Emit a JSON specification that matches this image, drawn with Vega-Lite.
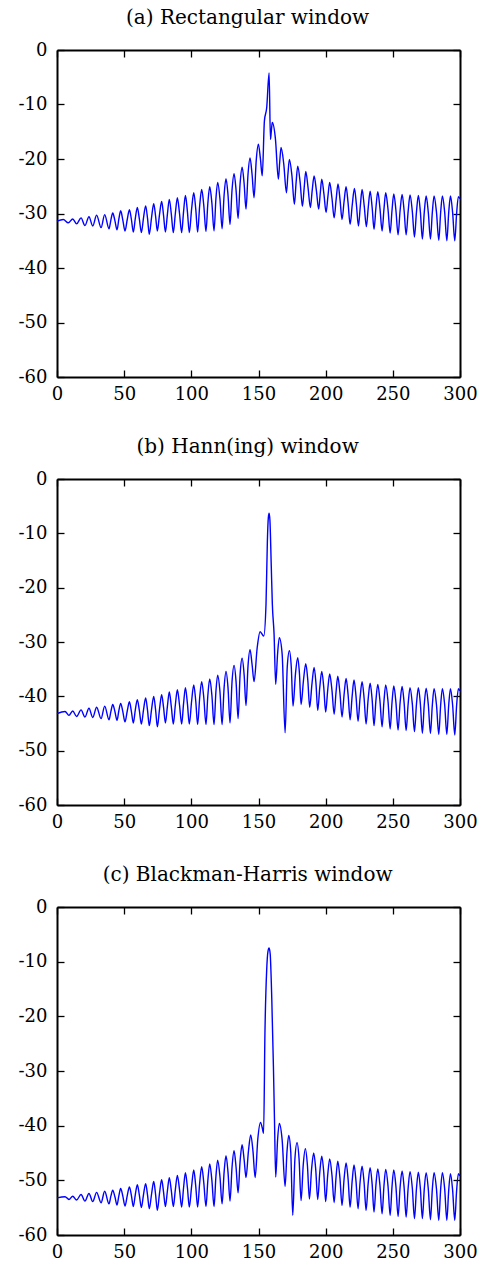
{
  "$schema": "https://vega.github.io/schema/vega-lite/v6.json",
  "background": "white",
  "padding": {"left": 18, "top": 8, "right": 5, "bottom": 5},
  "spacing": 34,
  "datasets": {
    "a": [
      {"x":0,"y":-31.4},{"x":4.7,"y":-31.1},{"x":8.4,"y":-31.7},{"x":11.7,"y":-31.0},{"x":14.6,"y":-31.9},{"x":17.9,"y":-30.8},{"x":20.8,"y":-32.2},{"x":23.8,"y":-30.6},{"x":26.6,"y":-32.3},{"x":29.5,"y":-30.3},{"x":32.8,"y":-32.6},{"x":35.5,"y":-30.2},{"x":38.7,"y":-32.8},
      {"x":40.1,"y":-31.2},{"x":41.5,"y":-29.9},{"x":43.1,"y":-31.3},{"x":44.7,"y":-33.0},
      {"x":46.0,"y":-31.1},{"x":47.4,"y":-29.5},{"x":49.0,"y":-31.2},{"x":50.6,"y":-33.2},
      {"x":52.3,"y":-31.1},{"x":53.9,"y":-29.3},{"x":55.4,"y":-31.1},{"x":56.8,"y":-33.4},
      {"x":58.3,"y":-30.9},{"x":59.8,"y":-28.9},{"x":61.3,"y":-31.0},{"x":62.8,"y":-33.5},
      {"x":64.4,"y":-30.8},{"x":66.0,"y":-28.6},{"x":67.4,"y":-30.9},{"x":68.7,"y":-33.8},
      {"x":70.4,"y":-30.7},{"x":72.0,"y":-28.2},{"x":73.4,"y":-30.5},{"x":74.7,"y":-33.2},
      {"x":76.3,"y":-30.2},{"x":77.9,"y":-27.8},{"x":79.3,"y":-30.3},{"x":80.7,"y":-33.4},
      {"x":82.2,"y":-30.1},{"x":83.6,"y":-27.4},{"x":85.1,"y":-30.1},{"x":86.6,"y":-33.5},
      {"x":88.1,"y":-30.0},{"x":89.6,"y":-27.1},{"x":91.2,"y":-30.0},{"x":92.8,"y":-33.5},
      {"x":94.2,"y":-29.7},{"x":95.6,"y":-26.7},{"x":97.1,"y":-29.7},{"x":98.5,"y":-33.5},
      {"x":100.2,"y":-29.2},{"x":101.8,"y":-26.2},{"x":103.3,"y":-29.2},{"x":104.7,"y":-33.4},
      {"x":106.2,"y":-28.6},{"x":107.7,"y":-25.6},{"x":109.3,"y":-28.6},{"x":110.9,"y":-33.3},
      {"x":112.3,"y":-28.1},{"x":113.7,"y":-25.1},{"x":115.3,"y":-28.1},{"x":116.9,"y":-33.2},
      {"x":118.3,"y":-27.3},{"x":119.6,"y":-24.3},{"x":121.3,"y":-27.3},{"x":122.9,"y":-32.8},
      {"x":124.4,"y":-26.6},{"x":125.8,"y":-23.6},{"x":127.3,"y":-26.6},{"x":128.8,"y":-32.0},
      {"x":130.3,"y":-25.7},{"x":131.8,"y":-22.7},{"x":133.3,"y":-25.7},{"x":134.8,"y":-30.9},
      {"x":136.3,"y":-24.5},{"x":137.8,"y":-21.5},{"x":139.3,"y":-24.5},{"x":140.7,"y":-29.2},
      {"x":142.2,"y":-22.8},{"x":143.7,"y":-19.8},{"x":145.2,"y":-22.8},{"x":146.7,"y":-27.1},
      {"x":148.3,"y":-20.3},{"x":149.9,"y":-17.3},{"x":151.4,"y":-19.9},{"x":152.8,"y":-23.1},
      {"x":154.4,"y":-13.0},{"x":156.1,"y":-10.6},{"x":157.9,"y":-4.2},{"x":158.9,"y":-16.4},
      {"x":159.6,"y":-14.7},{"x":160.3,"y":-13.3},{"x":162.6,"y":-16.3},{"x":164.8,"y":-23.7},
      {"x":165.8,"y":-20.5},{"x":166.8,"y":-17.9},{"x":168.8,"y":-20.9},{"x":170.8,"y":-26.2},
      {"x":171.9,"y":-22.8},{"x":173.0,"y":-20.1},{"x":174.9,"y":-23.1},{"x":176.7,"y":-28.3},
      {"x":178.0,"y":-24.3},{"x":179.2,"y":-21.3},{"x":181.0,"y":-24.3},{"x":182.7,"y":-28.7},
      {"x":184.0,"y":-25.3},{"x":185.2,"y":-22.3},{"x":186.9,"y":-25.3},{"x":188.6,"y":-28.9},
      {"x":190.0,"y":-25.7},{"x":191.4,"y":-23.1},{"x":193.1,"y":-25.8},{"x":194.8,"y":-29.2},
      {"x":196.0,"y":-26.2},{"x":197.1,"y":-23.7},{"x":198.7,"y":-26.4},{"x":200.3,"y":-29.8},
      {"x":201.7,"y":-26.8},{"x":203.0,"y":-24.3},{"x":204.7,"y":-27.2},{"x":206.3,"y":-30.8},
      {"x":207.8,"y":-27.4},{"x":209.2,"y":-24.6},{"x":210.7,"y":-27.5},{"x":212.2,"y":-31.1},
      {"x":213.7,"y":-27.8},{"x":215.2,"y":-25.1},{"x":216.7,"y":-28.1},{"x":218.2,"y":-32.0},
      {"x":219.8,"y":-28.4},{"x":221.4,"y":-25.4},{"x":222.9,"y":-28.4},{"x":224.4,"y":-32.3},
      {"x":225.8,"y":-28.6},{"x":227.1,"y":-25.6},{"x":228.7,"y":-28.6},{"x":230.3,"y":-32.4},
      {"x":231.7,"y":-28.9},{"x":233.1,"y":-25.9},{"x":234.6,"y":-28.9},{"x":236.0,"y":-32.9},
      {"x":237.4,"y":-29.0},{"x":238.8,"y":-26.0},{"x":240.4,"y":-29.0},{"x":242.0,"y":-33.2},
      {"x":243.4,"y":-29.2},{"x":244.7,"y":-26.2},{"x":246.4,"y":-29.2},{"x":248.0,"y":-33.6},
      {"x":249.4,"y":-29.4},{"x":250.7,"y":-26.4},{"x":252.3,"y":-29.4},{"x":253.9,"y":-33.9},
      {"x":255.4,"y":-29.5},{"x":256.9,"y":-26.5},{"x":258.4,"y":-29.5},{"x":259.9,"y":-33.9},
      {"x":261.4,"y":-29.6},{"x":262.8,"y":-26.6},{"x":264.5,"y":-29.6},{"x":266.1,"y":-34.3},
      {"x":267.6,"y":-29.7},{"x":269.0,"y":-26.7},{"x":270.5,"y":-29.7},{"x":272.0,"y":-34.7},
      {"x":273.4,"y":-29.8},{"x":274.8,"y":-26.8},{"x":276.4,"y":-29.8},{"x":278.0,"y":-34.7},
      {"x":279.4,"y":-29.8},{"x":280.7,"y":-26.8},{"x":282.5,"y":-29.8},{"x":284.2,"y":-34.9},
      {"x":285.6,"y":-29.8},{"x":286.9,"y":-26.8},{"x":288.6,"y":-29.8},{"x":290.2,"y":-35.0},
      {"x":291.6,"y":-29.8},{"x":292.9,"y":-26.8},{"x":294.5,"y":-29.8},{"x":296.1,"y":-35.0},
      {"x":297.5,"y":-29.9},{"x":298.8,"y":-26.9},{"x":300,"y":-27.3}
    ],
    "b": [
      {"x":0,"y":-43.2},{"x":6.0,"y":-42.8},{"x":8.9,"y":-43.5},{"x":11.7,"y":-42.7},{"x":14.6,"y":-43.7},{"x":17.9,"y":-42.5},{"x":20.8,"y":-43.8},{"x":23.8,"y":-42.2},{"x":26.6,"y":-43.9},{"x":29.5,"y":-42.0},{"x":32.8,"y":-44.1},{"x":35.5,"y":-41.8},{"x":38.7,"y":-44.3},
      {"x":40.1,"y":-42.8},{"x":41.5,"y":-41.5},{"x":43.1,"y":-42.8},{"x":44.7,"y":-44.4},
      {"x":46.0,"y":-42.7},{"x":47.4,"y":-41.3},{"x":49.0,"y":-42.8},{"x":50.6,"y":-44.7},
      {"x":52.3,"y":-42.7},{"x":53.9,"y":-41.0},{"x":55.4,"y":-42.8},{"x":56.8,"y":-44.9},
      {"x":58.3,"y":-42.5},{"x":59.8,"y":-40.6},{"x":61.3,"y":-42.6},{"x":62.8,"y":-45.1},
      {"x":64.4,"y":-42.5},{"x":66.0,"y":-40.3},{"x":67.4,"y":-42.6},{"x":68.7,"y":-45.4},
      {"x":70.4,"y":-42.4},{"x":72.0,"y":-40.0},{"x":73.4,"y":-42.5},{"x":74.7,"y":-45.6},
      {"x":76.3,"y":-42.4},{"x":77.9,"y":-39.7},{"x":79.3,"y":-42.0},{"x":80.7,"y":-44.9},
      {"x":82.2,"y":-41.8},{"x":83.6,"y":-39.2},{"x":85.1,"y":-41.9},{"x":86.6,"y":-45.1},
      {"x":88.1,"y":-41.6},{"x":89.6,"y":-38.8},{"x":91.2,"y":-41.6},{"x":92.8,"y":-45.1},
      {"x":94.2,"y":-41.4},{"x":95.6,"y":-38.4},{"x":97.1,"y":-41.4},{"x":98.5,"y":-45.1},
      {"x":100.2,"y":-40.9},{"x":101.8,"y":-37.9},{"x":103.3,"y":-40.9},{"x":104.7,"y":-45.2},
      {"x":106.2,"y":-40.3},{"x":107.7,"y":-37.3},{"x":109.3,"y":-40.3},{"x":110.9,"y":-45.2},
      {"x":112.3,"y":-39.8},{"x":113.7,"y":-36.8},{"x":115.3,"y":-39.8},{"x":116.9,"y":-45.2},
      {"x":118.3,"y":-39.1},{"x":119.6,"y":-36.1},{"x":121.3,"y":-39.1},{"x":122.9,"y":-45.2},
      {"x":124.4,"y":-38.4},{"x":125.8,"y":-35.4},{"x":127.3,"y":-38.4},{"x":128.8,"y":-44.9},
      {"x":130.3,"y":-37.3},{"x":131.8,"y":-34.3},{"x":133.3,"y":-37.3},{"x":134.8,"y":-44.1},
      {"x":136.3,"y":-36.0},{"x":137.8,"y":-33.0},{"x":139.3,"y":-36.0},{"x":140.7,"y":-41.7},
      {"x":142.2,"y":-34.4},{"x":143.7,"y":-31.4},{"x":145.2,"y":-34.1},{"x":146.7,"y":-37.3},
      {"x":149.0,"y":-31.1},{"x":151.2,"y":-28.1},{"x":153.9,"y":-28.9},
      {"x":155.6,"y":-23.0},{"x":156.6,"y":-11.5},{"x":157.3,"y":-7.2},{"x":157.9,"y":-6.3},{"x":158.5,"y":-7.6},{"x":159.5,"y":-16.0},{"x":160.3,"y":-23.0},{"x":161.6,"y":-28.6},{"x":162.8,"y":-37.8},
      {"x":164.2,"y":-32.2},{"x":165.5,"y":-29.2},{"x":167.6,"y":-32.2},{"x":169.8,"y":-46.7},
      {"x":171.4,"y":-34.6},{"x":173.0,"y":-31.6},{"x":174.4,"y":-34.6},{"x":175.7,"y":-41.8},
      {"x":177.5,"y":-35.9},{"x":179.2,"y":-32.9},{"x":180.5,"y":-35.9},{"x":181.7,"y":-41.5},
      {"x":183.5,"y":-37.0},{"x":185.2,"y":-34.0},{"x":186.7,"y":-37.0},{"x":188.1,"y":-42.0},
      {"x":189.8,"y":-37.7},{"x":191.4,"y":-34.7},{"x":192.8,"y":-37.7},{"x":194.1,"y":-42.6},
      {"x":195.6,"y":-38.4},{"x":197.1,"y":-35.4},{"x":198.6,"y":-38.4},{"x":200.0,"y":-42.9},
      {"x":201.5,"y":-38.9},{"x":203.0,"y":-35.9},{"x":204.7,"y":-38.9},{"x":206.3,"y":-43.3},
      {"x":207.7,"y":-39.3},{"x":209.0,"y":-36.3},{"x":210.6,"y":-39.3},{"x":212.2,"y":-43.8},
      {"x":213.7,"y":-39.7},{"x":215.2,"y":-36.7},{"x":216.7,"y":-39.7},{"x":218.2,"y":-44.3},
      {"x":219.7,"y":-40.0},{"x":221.1,"y":-37.0},{"x":222.6,"y":-40.0},{"x":224.1,"y":-44.6},
      {"x":225.6,"y":-40.3},{"x":227.1,"y":-37.3},{"x":228.6,"y":-40.3},{"x":230.1,"y":-45.1},
      {"x":231.6,"y":-40.6},{"x":233.1,"y":-37.6},{"x":234.6,"y":-40.6},{"x":236.0,"y":-45.4},
      {"x":237.4,"y":-40.8},{"x":238.8,"y":-37.8},{"x":240.4,"y":-40.8},{"x":242.0,"y":-45.6},
      {"x":243.4,"y":-40.9},{"x":244.7,"y":-37.9},{"x":246.4,"y":-40.9},{"x":248.0,"y":-46.0},
      {"x":249.4,"y":-41.1},{"x":250.7,"y":-38.1},{"x":252.3,"y":-41.1},{"x":253.9,"y":-46.2},
      {"x":255.4,"y":-41.2},{"x":256.9,"y":-38.2},{"x":258.4,"y":-41.2},{"x":259.9,"y":-46.3},
      {"x":261.4,"y":-41.4},{"x":262.8,"y":-38.4},{"x":264.5,"y":-41.4},{"x":266.1,"y":-46.5},
      {"x":267.6,"y":-41.4},{"x":269.0,"y":-38.4},{"x":270.5,"y":-41.4},{"x":272.0,"y":-46.8},
      {"x":273.4,"y":-41.5},{"x":274.8,"y":-38.5},{"x":276.4,"y":-41.5},{"x":278.0,"y":-46.8},
      {"x":279.4,"y":-41.6},{"x":280.7,"y":-38.6},{"x":282.5,"y":-41.6},{"x":284.2,"y":-47.0},
      {"x":285.6,"y":-41.6},{"x":286.9,"y":-38.6},{"x":288.6,"y":-41.6},{"x":290.2,"y":-47.0},
      {"x":291.6,"y":-41.6},{"x":292.9,"y":-38.6},{"x":294.5,"y":-41.6},{"x":296.1,"y":-47.1},
      {"x":297.5,"y":-41.6},{"x":298.8,"y":-38.6},{"x":300,"y":-39.0}
    ],
    "c": [
      {"x":0,"y":-53.2},{"x":6.0,"y":-53.0},{"x":8.9,"y":-53.5},{"x":11.7,"y":-52.9},{"x":14.6,"y":-53.6},{"x":17.9,"y":-52.6},{"x":20.8,"y":-53.8},{"x":23.8,"y":-52.4},{"x":26.6,"y":-53.9},{"x":29.5,"y":-52.2},{"x":32.8,"y":-54.1},{"x":35.5,"y":-52.0},{"x":38.7,"y":-54.3},
      {"x":40.1,"y":-52.9},{"x":41.5,"y":-51.8},{"x":43.1,"y":-53.0},{"x":44.7,"y":-54.5},
      {"x":46.0,"y":-52.9},{"x":47.4,"y":-51.5},{"x":49.0,"y":-52.9},{"x":50.6,"y":-54.7},
      {"x":52.3,"y":-52.8},{"x":53.9,"y":-51.2},{"x":55.4,"y":-52.8},{"x":56.8,"y":-54.8},
      {"x":58.3,"y":-52.6},{"x":59.8,"y":-50.8},{"x":61.3,"y":-52.7},{"x":62.8,"y":-55.0},
      {"x":64.4,"y":-52.6},{"x":66.0,"y":-50.6},{"x":67.4,"y":-52.7},{"x":68.7,"y":-55.2},
      {"x":70.4,"y":-52.5},{"x":72.0,"y":-50.2},{"x":73.4,"y":-52.6},{"x":74.7,"y":-55.5},
      {"x":76.3,"y":-52.4},{"x":77.9,"y":-49.9},{"x":79.3,"y":-52.1},{"x":80.7,"y":-54.8},
      {"x":82.2,"y":-51.9},{"x":83.6,"y":-49.5},{"x":85.1,"y":-51.9},{"x":86.6,"y":-54.8},
      {"x":88.1,"y":-51.7},{"x":89.6,"y":-49.1},{"x":91.2,"y":-51.7},{"x":92.8,"y":-54.9},
      {"x":94.2,"y":-51.4},{"x":95.6,"y":-48.6},{"x":97.1,"y":-51.4},{"x":98.5,"y":-54.9},
      {"x":100.2,"y":-51.1},{"x":101.8,"y":-48.1},{"x":103.3,"y":-51.1},{"x":104.7,"y":-54.9},
      {"x":106.2,"y":-50.5},{"x":107.7,"y":-47.5},{"x":109.3,"y":-50.5},{"x":110.9,"y":-54.8},
      {"x":112.3,"y":-50.0},{"x":113.7,"y":-47.0},{"x":115.3,"y":-50.0},{"x":116.9,"y":-54.8},
      {"x":118.3,"y":-49.3},{"x":119.6,"y":-46.3},{"x":121.3,"y":-49.3},{"x":122.9,"y":-54.3},
      {"x":124.4,"y":-48.5},{"x":125.8,"y":-45.5},{"x":127.3,"y":-48.5},{"x":128.8,"y":-53.8},
      {"x":130.3,"y":-47.6},{"x":131.8,"y":-44.6},{"x":133.3,"y":-47.6},{"x":134.8,"y":-52.3},
      {"x":136.3,"y":-46.5},{"x":137.8,"y":-43.5},{"x":139.3,"y":-46.2},{"x":140.7,"y":-49.5},
      {"x":142.5,"y":-44.7},{"x":144.2,"y":-41.7},{"x":145.9,"y":-44.7},{"x":147.5,"y":-49.5},
      {"x":149.5,"y":-42.4},{"x":151.5,"y":-39.4},{"x":152.7,"y":-40.3},{"x":153.8,"y":-41.4},
      {"x":154.8,"y":-23.0},{"x":156.1,"y":-11.5},{"x":157.0,"y":-8.2},{"x":157.9,"y":-7.5},{"x":158.7,"y":-8.6},{"x":159.9,"y":-16.9},{"x":161.1,"y":-29.1},{"x":161.9,"y":-38.9},{"x":162.8,"y":-49.4},
      {"x":164.2,"y":-42.6},{"x":165.5,"y":-39.6},{"x":167.6,"y":-42.6},{"x":169.8,"y":-51.1},
      {"x":171.2,"y":-44.8},{"x":172.5,"y":-41.8},{"x":174.0,"y":-44.8},{"x":175.5,"y":-56.4},
      {"x":177.1,"y":-46.1},{"x":178.7,"y":-43.1},{"x":180.2,"y":-46.1},{"x":181.7,"y":-53.7},
      {"x":183.3,"y":-47.2},{"x":184.9,"y":-44.2},{"x":186.4,"y":-47.2},{"x":187.9,"y":-53.4},
      {"x":189.5,"y":-48.0},{"x":191.1,"y":-45.0},{"x":192.6,"y":-48.0},{"x":194.1,"y":-53.5},
      {"x":195.6,"y":-48.6},{"x":197.1,"y":-45.6},{"x":198.6,"y":-48.6},{"x":200.0,"y":-53.9},
      {"x":201.5,"y":-49.1},{"x":203.0,"y":-46.1},{"x":204.7,"y":-49.1},{"x":206.3,"y":-54.1},
      {"x":207.7,"y":-49.5},{"x":209.0,"y":-46.5},{"x":210.6,"y":-49.5},{"x":212.2,"y":-54.6},
      {"x":213.7,"y":-49.8},{"x":215.2,"y":-46.8},{"x":216.7,"y":-49.8},{"x":218.2,"y":-54.9},
      {"x":219.7,"y":-50.2},{"x":221.1,"y":-47.2},{"x":222.6,"y":-50.2},{"x":224.1,"y":-55.2},
      {"x":225.6,"y":-50.4},{"x":227.1,"y":-47.4},{"x":228.6,"y":-50.4},{"x":230.1,"y":-55.5},
      {"x":231.6,"y":-50.7},{"x":233.1,"y":-47.7},{"x":234.6,"y":-50.7},{"x":236.0,"y":-55.8},
      {"x":237.4,"y":-50.9},{"x":238.8,"y":-47.9},{"x":240.4,"y":-50.9},{"x":242.0,"y":-56.1},
      {"x":243.4,"y":-51.0},{"x":244.7,"y":-48.0},{"x":246.4,"y":-51.0},{"x":248.0,"y":-56.4},
      {"x":249.4,"y":-51.1},{"x":250.7,"y":-48.1},{"x":252.3,"y":-51.1},{"x":253.9,"y":-56.6},
      {"x":255.4,"y":-51.3},{"x":256.9,"y":-48.3},{"x":258.4,"y":-51.3},{"x":259.9,"y":-56.7},
      {"x":261.4,"y":-51.4},{"x":262.8,"y":-48.4},{"x":264.5,"y":-51.4},{"x":266.1,"y":-57.0},
      {"x":267.6,"y":-51.5},{"x":269.0,"y":-48.5},{"x":270.5,"y":-51.5},{"x":272.0,"y":-57.0},
      {"x":273.4,"y":-51.6},{"x":274.8,"y":-48.6},{"x":276.4,"y":-51.6},{"x":278.0,"y":-57.2},
      {"x":279.4,"y":-51.6},{"x":280.7,"y":-48.6},{"x":282.5,"y":-51.6},{"x":284.2,"y":-57.3},
      {"x":285.6,"y":-51.6},{"x":286.9,"y":-48.6},{"x":288.6,"y":-51.6},{"x":290.2,"y":-57.3},
      {"x":291.6,"y":-51.8},{"x":292.9,"y":-48.8},{"x":294.5,"y":-51.8},{"x":296.1,"y":-57.3},
      {"x":297.5,"y":-51.8},{"x":298.8,"y":-48.8},{"x":300,"y":-49.2}
    ]
  },
  "vconcat": [
    {
      "title": {"text": "(a) Rectangular window"},
      "width": 403, "height": 327,
      "data": {"name": "a"},
      "layer": [
        {"mark": {"type": "line", "color": "#0000ff", "strokeWidth": 1.4, "interpolate": "monotone"},
         "encoding": {
           "x": {"field": "x", "type": "quantitative", "scale": {"domain": [0, 300], "nice": false}, "axis": {"orient": "bottom", "values": [0,50,100,150,200,250,300], "labelPadding": 15, "labelFlush": false, "labelOverlap": false, "title": null}},
           "y": {"field": "y", "type": "quantitative", "scale": {"domain": [-60, 0], "nice": false, "zero": false}, "axis": {"orient": "left", "values": [0,-10,-20,-30,-40,-50,-60], "labelPadding": 17, "labelOverlap": false, "labelExpr": "replace(datum.label, '\u2212', '-')", "title": null}}
         }},
        {"mark": {"type": "line", "opacity": 0},
         "encoding": {
           "x": {"field": "x", "type": "quantitative", "axis": {"orient": "top", "values": [0,50,100,150,200,250,300], "labels": false, "title": null}},
           "y": {"field": "y", "type": "quantitative", "axis": {"orient": "right", "values": [0,-10,-20,-30,-40,-50,-60], "labels": false, "title": null}}
         }}
      ],
      "resolve": {"axis": {"x": "independent", "y": "independent"}}
    },
    {
      "title": {"text": "(b) Hann(ing) window"},
      "width": 403, "height": 326,
      "data": {"name": "b"},
      "layer": [
        {"mark": {"type": "line", "color": "#0000ff", "strokeWidth": 1.4, "interpolate": "monotone"},
         "encoding": {
           "x": {"field": "x", "type": "quantitative", "scale": {"domain": [0, 300], "nice": false}, "axis": {"orient": "bottom", "values": [0,50,100,150,200,250,300], "labelPadding": 15, "labelFlush": false, "labelOverlap": false, "title": null}},
           "y": {"field": "y", "type": "quantitative", "scale": {"domain": [-60, 0], "nice": false, "zero": false}, "axis": {"orient": "left", "values": [0,-10,-20,-30,-40,-50,-60], "labelPadding": 17, "labelOverlap": false, "labelExpr": "replace(datum.label, '\u2212', '-')", "title": null}}
         }},
        {"mark": {"type": "line", "opacity": 0},
         "encoding": {
           "x": {"field": "x", "type": "quantitative", "axis": {"orient": "top", "values": [0,50,100,150,200,250,300], "labels": false, "title": null}},
           "y": {"field": "y", "type": "quantitative", "axis": {"orient": "right", "values": [0,-10,-20,-30,-40,-50,-60], "labels": false, "title": null}}
         }}
      ],
      "resolve": {"axis": {"x": "independent", "y": "independent"}}
    },
    {
      "title": {"text": "(c) Blackman-Harris window"},
      "width": 403, "height": 328,
      "data": {"name": "c"},
      "layer": [
        {"mark": {"type": "line", "color": "#0000ff", "strokeWidth": 1.4, "interpolate": "monotone"},
         "encoding": {
           "x": {"field": "x", "type": "quantitative", "scale": {"domain": [0, 300], "nice": false}, "axis": {"orient": "bottom", "values": [0,50,100,150,200,250,300], "labelPadding": 15, "labelFlush": false, "labelOverlap": false, "title": null}},
           "y": {"field": "y", "type": "quantitative", "scale": {"domain": [-60, 0], "nice": false, "zero": false}, "axis": {"orient": "left", "values": [0,-10,-20,-30,-40,-50,-60], "labelPadding": 17, "labelOverlap": false, "labelExpr": "replace(datum.label, '\u2212', '-')", "title": null}}
         }},
        {"mark": {"type": "line", "opacity": 0},
         "encoding": {
           "x": {"field": "x", "type": "quantitative", "axis": {"orient": "top", "values": [0,50,100,150,200,250,300], "labels": false, "title": null}},
           "y": {"field": "y", "type": "quantitative", "axis": {"orient": "right", "values": [0,-10,-20,-30,-40,-50,-60], "labels": false, "title": null}}
         }}
      ],
      "resolve": {"axis": {"x": "independent", "y": "independent"}}
    }
  ],
  "config": {
    "view": {"stroke": null},
    "axis": {"grid": false, "domainColor": "black", "domainWidth": 2, "tickColor": "black", "tickWidth": 1.3, "tickSize": -7, "labelFont": "DejaVu Serif", "labelFontSize": 18, "labelColor": "black"},
    "title": {"font": "DejaVu Serif", "fontSize": 20, "fontWeight": "normal", "color": "black", "frame": "bounds", "anchor": "middle", "baseline": "alphabetic", "offset": 13}
  }
}
